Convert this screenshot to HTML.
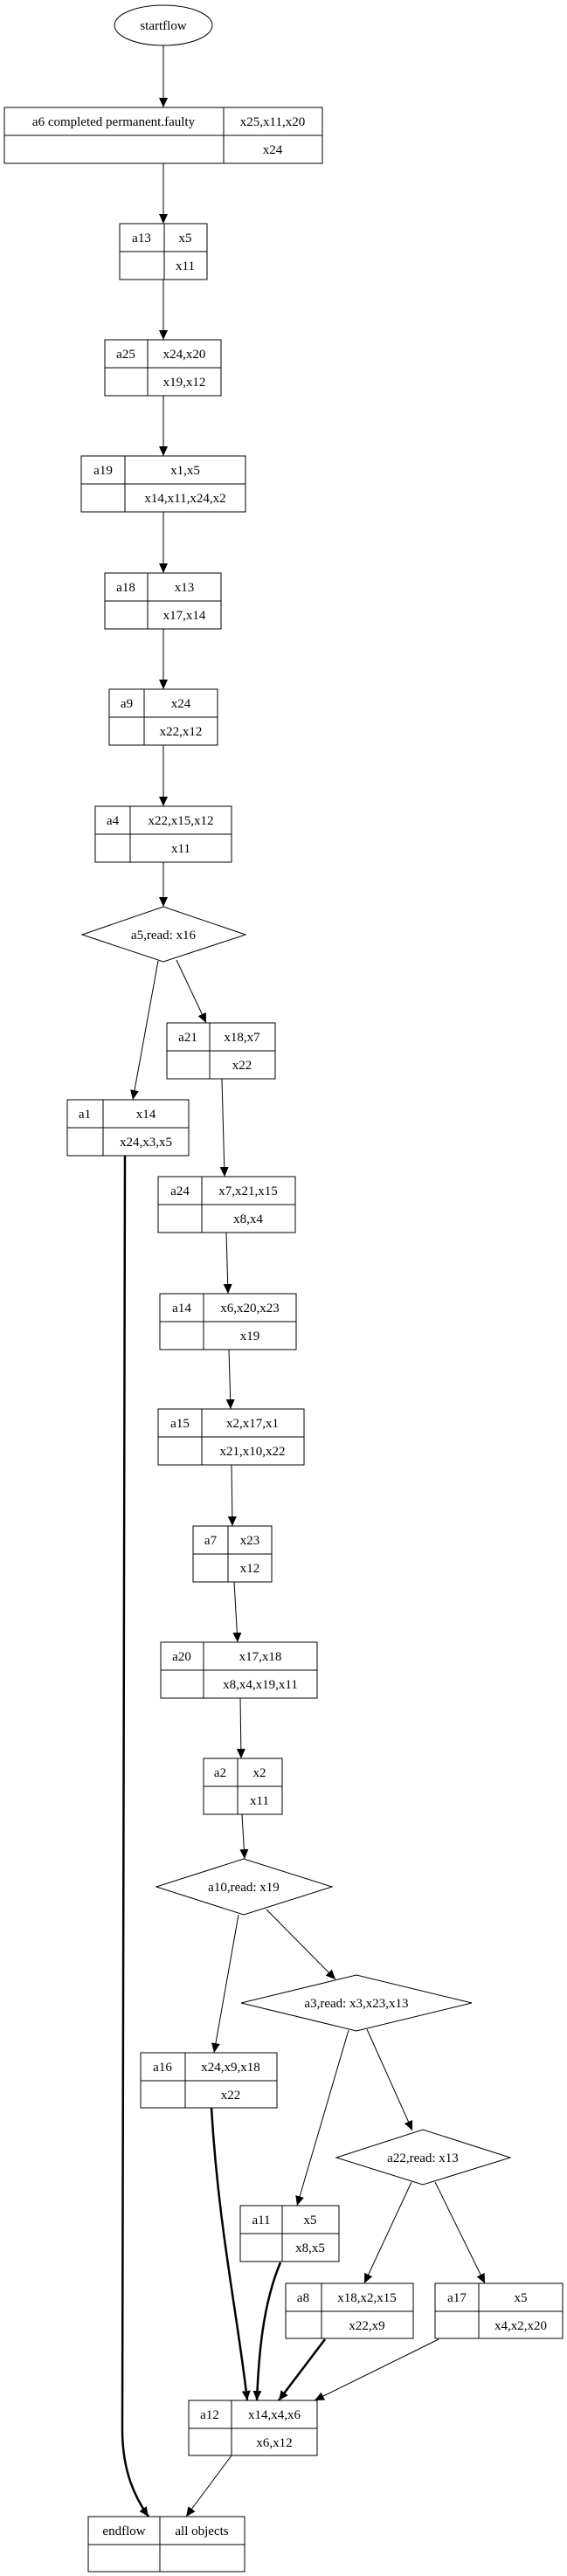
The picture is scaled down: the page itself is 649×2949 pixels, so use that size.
<!DOCTYPE html>
<html><head><meta charset="utf-8"><style>
html,body{margin:0;padding:0;background:#fff;}
svg{display:block;}
text{font-family:"Liberation Serif",serif;font-size:15px;fill:#000;text-anchor:middle;}
</style></head><body>
<svg width="649" height="2949" viewBox="0 0 649 2949" xmlns="http://www.w3.org/2000/svg">
<defs>
<marker id="ah" markerUnits="userSpaceOnUse" markerWidth="12" markerHeight="12" refX="11" refY="5" orient="auto"><path d="M0,0 L11,5 L0,10 z" fill="#000"/></marker>
</defs>
<g fill="none" stroke="#000" stroke-width="1">
<ellipse cx="187" cy="29" rx="56" ry="23"/>
<polygon points="94,1070 187,1038 281,1070 187,1101"/>
<polygon points="179,2160 279,2128 380,2160 279,2192"/>
<polygon points="276,2293 408,2261 540,2293 408,2325"/>
<polygon points="385,2470 484,2438 584,2470 484,2501"/>
</g>
<text x="187" y="34">startflow</text>
<text x="187" y="1075">a5,read: x16</text>
<text x="279" y="2165">a10,read: x19</text>
<text x="408" y="2298">a3,read: x3,x23,x13</text>
<text x="484" y="2475">a22,read: x13</text>
<g fill="none" stroke="#000" stroke-width="1" marker-end="url(#ah)">
<path d="M187,52 L187,123"/>
<path d="M187,187 L187,256"/>
<path d="M187,320 L187,389"/>
<path d="M187,453 L187,522"/>
<path d="M187,586 L187,656"/>
<path d="M187,720 L187,789"/>
<path d="M187,853 L187,923"/>
<path d="M187,987 L187,1038"/>
<path d="M181,1100 L152,1259"/>
<path d="M202,1099 L236,1171"/>
<path d="M254,1235 L257,1347"/>
<path d="M259,1411 L261,1481"/>
<path d="M262,1545 L264,1613"/>
<path d="M265,1677 L266,1747"/>
<path d="M268,1811 L272,1880"/>
<path d="M275,1944 L276,2013"/>
<path d="M277,2077 L280,2128"/>
<path d="M273,2192 L245,2350"/>
<path d="M305,2186 L384,2266"/>
<path d="M399,2324 L340,2525"/>
<path d="M420,2323 L472,2439"/>
<path d="M471,2498 L417,2614"/>
<path d="M498,2498 L555,2614"/>
<path d="M502,2678 L360,2748"/>
<path d="M265,2811 L213,2881"/>
</g>
<g fill="none" stroke="#000" stroke-width="2.5" marker-end="url(#ah)">
<path d="M242,2413 C250,2550 272,2650 283,2748"/>
<path d="M321,2590 C300,2640 296,2700 294,2748"/>
<path d="M372,2678 L319,2748"/>
<path d="M143,1323 L140,2781 C140,2830 155,2860 170,2881"/>
</g>
<g fill="none" stroke="#000" stroke-width="1">
<rect x="5" y="123" width="364" height="64"/><line x1="256" y1="123" x2="256" y2="187"/><line x1="5" y1="155" x2="369" y2="155"/>
<rect x="137" y="256" width="100" height="64"/><line x1="188" y1="256" x2="188" y2="320"/><line x1="137" y1="288" x2="237" y2="288"/>
<rect x="120" y="389" width="133" height="64"/><line x1="169" y1="389" x2="169" y2="453"/><line x1="120" y1="421" x2="253" y2="421"/>
<rect x="93" y="522" width="188" height="64"/><line x1="143" y1="522" x2="143" y2="586"/><line x1="93" y1="554" x2="281" y2="554"/>
<rect x="120" y="656" width="133" height="64"/><line x1="169" y1="656" x2="169" y2="720"/><line x1="120" y1="688" x2="253" y2="688"/>
<rect x="125" y="789" width="124" height="64"/><line x1="165" y1="789" x2="165" y2="853"/><line x1="125" y1="821" x2="249" y2="821"/>
<rect x="109" y="923" width="156" height="64"/><line x1="149" y1="923" x2="149" y2="987"/><line x1="109" y1="955" x2="265" y2="955"/>
<rect x="191" y="1171" width="124" height="64"/><line x1="240" y1="1171" x2="240" y2="1235"/><line x1="191" y1="1203" x2="315" y2="1203"/>
<rect x="77" y="1259" width="139" height="64"/><line x1="118" y1="1259" x2="118" y2="1323"/><line x1="77" y1="1291" x2="216" y2="1291"/>
<rect x="181" y="1347" width="157" height="64"/><line x1="231" y1="1347" x2="231" y2="1411"/><line x1="181" y1="1379" x2="338" y2="1379"/>
<rect x="183" y="1481" width="156" height="64"/><line x1="233" y1="1481" x2="233" y2="1545"/><line x1="183" y1="1513" x2="339" y2="1513"/>
<rect x="181" y="1613" width="167" height="64"/><line x1="231" y1="1613" x2="231" y2="1677"/><line x1="181" y1="1645" x2="348" y2="1645"/>
<rect x="221" y="1747" width="90" height="64"/><line x1="261" y1="1747" x2="261" y2="1811"/><line x1="221" y1="1779" x2="311" y2="1779"/>
<rect x="184" y="1880" width="179" height="64"/><line x1="233" y1="1880" x2="233" y2="1944"/><line x1="184" y1="1912" x2="363" y2="1912"/>
<rect x="233" y="2013" width="90" height="64"/><line x1="272" y1="2013" x2="272" y2="2077"/><line x1="233" y1="2045" x2="323" y2="2045"/>
<rect x="161" y="2350" width="156" height="63"/><line x1="212" y1="2350" x2="212" y2="2413"/><line x1="161" y1="2382" x2="317" y2="2382"/>
<rect x="275" y="2525" width="113" height="64"/><line x1="323" y1="2525" x2="323" y2="2589"/><line x1="275" y1="2557" x2="388" y2="2557"/>
<rect x="327" y="2614" width="146" height="63"/><line x1="368" y1="2614" x2="368" y2="2677"/><line x1="327" y1="2646" x2="473" y2="2646"/>
<rect x="498" y="2614" width="146" height="63"/><line x1="548" y1="2614" x2="548" y2="2677"/><line x1="498" y1="2646" x2="644" y2="2646"/>
<rect x="216" y="2748" width="147" height="63"/><line x1="265" y1="2748" x2="265" y2="2811"/><line x1="216" y1="2780" x2="363" y2="2780"/>
<rect x="101" y="2881" width="179" height="63"/><line x1="183" y1="2881" x2="183" y2="2944"/><line x1="101" y1="2913" x2="280" y2="2913"/>
</g>
<text x="130" y="144">a6 completed permanent.faulty</text><text x="312" y="144">x25,x11,x20</text><text x="312" y="176">x24</text>
<text x="162" y="277">a13</text><text x="212" y="277">x5</text><text x="212" y="309">x11</text>
<text x="144" y="410">a25</text><text x="211" y="410">x24,x20</text><text x="211" y="442">x19,x12</text>
<text x="118" y="543">a19</text><text x="212" y="543">x1,x5</text><text x="212" y="575">x14,x11,x24,x2</text>
<text x="144" y="677">a18</text><text x="211" y="677">x13</text><text x="211" y="709">x17,x14</text>
<text x="145" y="810">a9</text><text x="207" y="810">x24</text><text x="207" y="842">x22,x12</text>
<text x="129" y="944">a4</text><text x="207" y="944">x22,x15,x12</text><text x="207" y="976">x11</text>
<text x="215" y="1192">a21</text><text x="277" y="1192">x18,x7</text><text x="277" y="1224">x22</text>
<text x="97" y="1280">a1</text><text x="167" y="1280">x14</text><text x="167" y="1312">x24,x3,x5</text>
<text x="206" y="1368">a24</text><text x="284" y="1368">x7,x21,x15</text><text x="284" y="1400">x8,x4</text>
<text x="208" y="1502">a14</text><text x="286" y="1502">x6,x20,x23</text><text x="286" y="1534">x19</text>
<text x="206" y="1634">a15</text><text x="289" y="1634">x2,x17,x1</text><text x="289" y="1666">x21,x10,x22</text>
<text x="241" y="1768">a7</text><text x="286" y="1768">x23</text><text x="286" y="1800">x12</text>
<text x="208" y="1901">a20</text><text x="298" y="1901">x17,x18</text><text x="298" y="1933">x8,x4,x19,x11</text>
<text x="252" y="2034">a2</text><text x="297" y="2034">x2</text><text x="297" y="2066">x11</text>
<text x="186" y="2371">a16</text><text x="264" y="2371">x24,x9,x18</text><text x="264" y="2403">x22</text>
<text x="299" y="2546">a11</text><text x="355" y="2546">x5</text><text x="355" y="2578">x8,x5</text>
<text x="347" y="2635">a8</text><text x="420" y="2635">x18,x2,x15</text><text x="420" y="2667">x22,x9</text>
<text x="523" y="2635">a17</text><text x="596" y="2635">x5</text><text x="596" y="2667">x4,x2,x20</text>
<text x="240" y="2769">a12</text><text x="314" y="2769">x14,x4,x6</text><text x="314" y="2801">x6,x12</text>
<text x="142" y="2902">endflow</text><text x="231" y="2902">all objects</text>
</svg>
</body></html>
